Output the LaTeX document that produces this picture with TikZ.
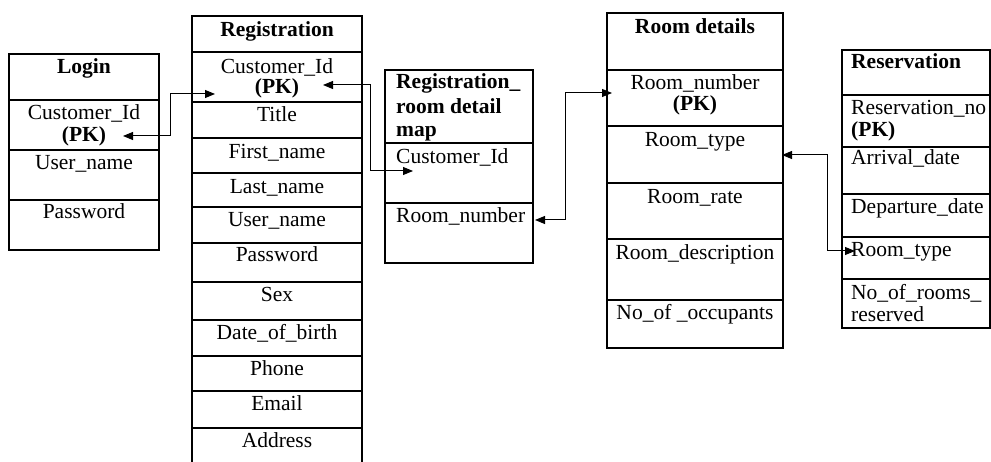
\documentclass[tikz,border=0pt]{standalone}
\usepackage{fontspec}
\setmainfont{Liberation Serif}
\usetikzlibrary{arrows.meta}
\begin{document}
\begin{tikzpicture}[x=1pt,y=-1pt,
 tbl/.style={draw,line width=1.1pt},
 fld/.style={inner sep=0pt,anchor=mid,yshift=-4.5pt,font=\fontsize{21.5}{22}\selectfont},
 fldl/.style={fld,anchor=mid west},
 hd/.style={fld,font=\fontsize{21.5}{22}\selectfont\bfseries},
 hdl/.style={fldl,font=\fontsize{21.5}{22}\selectfont\bfseries},
 link/.style={line width=1pt,{Triangle[length=10pt,width=8pt]}-{Triangle[length=10pt,width=8pt]}}]
\useasboundingbox (0,0) rectangle (991,462);
\clip (0,0) rectangle (991,462);
% Login
\draw[tbl] (9,54) rectangle (159,250);
\foreach \y in {100,150,200} \draw[tbl] (9,\y) -- (159,\y);
\node[hd] (login) at (84,67) {Login};
\node[fld] (lcid) at (84,113) {Customer\_Id};
\node[hd] (lpk) at (84,135) {(PK)};
\node[fld] (luser) at (84,163) {User\_name};
\node[fld] (lpass) at (84,212) {Password};
% Registration
\draw[tbl] (192,470) -- (192,16) -- (362,16) -- (362,470);
\foreach \y in {52,102,138,173,207,243,282,320,356,391,428} \draw[tbl] (192,\y) -- (362,\y);
\node[hd] (reg) at (277,30) {Registration};
\node[fld] (rcid) at (277,67) {Customer\_Id};
\node[hd] (rpk) at (277,87) {(PK)};
\node[fld] (rtitle) at (277,115) {Title};
\node[fld] (rfirst) at (277,152) {First\_name};
\node[fld] (rlast) at (277,187) {Last\_name};
\node[fld] (ruser) at (277,220) {User\_name};
\node[fld] (rpass) at (277,255) {Password};
\node[fld] (rsex) at (277,295) {Sex};
\node[fld] (rdob) at (277,333) {Date\_of\_birth};
\node[fld] (rphone) at (277,369) {Phone};
\node[fld] (remail) at (277,404) {Email};
\node[fld] (raddr) at (277,441) {Address};
% Registration room detail map
\draw[tbl] (385,70) rectangle (533,263);
\foreach \y in {143,203} \draw[tbl] (385,\y) -- (533,\y);
\node[hdl] (map1) at (396,82) {Registration\_};
\node[hdl] (map2) at (396,107) {room detail};
\node[hdl] (map3) at (396,130) {map};
\node[fldl] (mcid) at (396,157) {Customer\_Id};
\node[fldl] (mroom) at (396,216) {Room\_number};
% Room details
\draw[tbl] (607,13) rectangle (783,348);
\foreach \y in {70,126,183,239,300} \draw[tbl] (607,\y) -- (783,\y);
\node[hd] (rd) at (695,27) {Room details};
\node[fld] (rdnum) at (695,83) {Room\_number};
\node[hd] (rdpk) at (695,104) {(PK)};
\node[fld] (rdtype) at (695,140) {Room\_type};
\node[fld] (rdrate) at (695,197) {Room\_rate};
\node[fld] (rddesc) at (695,253) {Room\_description};
\node[fld] (rdocc) at (695,313) {No\_of \_occupants};
% Reservation
\draw[tbl] (842,50) rectangle (990,328);
\foreach \y in {95,147,194,237,279} \draw[tbl] (842,\y) -- (990,\y);
\node[hdl] (res) at (851,62) {Reservation};
\node[fldl] (resno) at (851,108) {Reservation\_no};
\node[hdl] (respk) at (851,130) {(PK)};
\node[fldl] (resarr) at (851,158) {Arrival\_date};
\node[fldl] (resdep) at (851,207) {Departure\_date};
\node[fldl] (restype) at (851,250) {Room\_type};
\node[fldl] (resno1) at (851,293) {No\_of\_rooms\_};
\node[fldl] (resno2) at (851,315) {reserved};
% connector end points
\coordinate (a1) at (123,136);
\coordinate (a2) at (215,94);
\coordinate (b1) at (323,85);
\coordinate (b2) at (413,171);
\coordinate (c1) at (535,220);
\coordinate (c2) at (612,93);
\coordinate (d1) at (782,155);
\coordinate (d2) at (855,251);
\draw[link] (a1) -- ++(47,0) |- (a2);
\draw[link] (b1) -- ++(47,0) |- (b2);
\draw[link] (c1) -- ++(30,0) |- (c2);
\draw[link] (d1) -- ++(45,0) |- (d2);
\end{tikzpicture}
\end{document}
